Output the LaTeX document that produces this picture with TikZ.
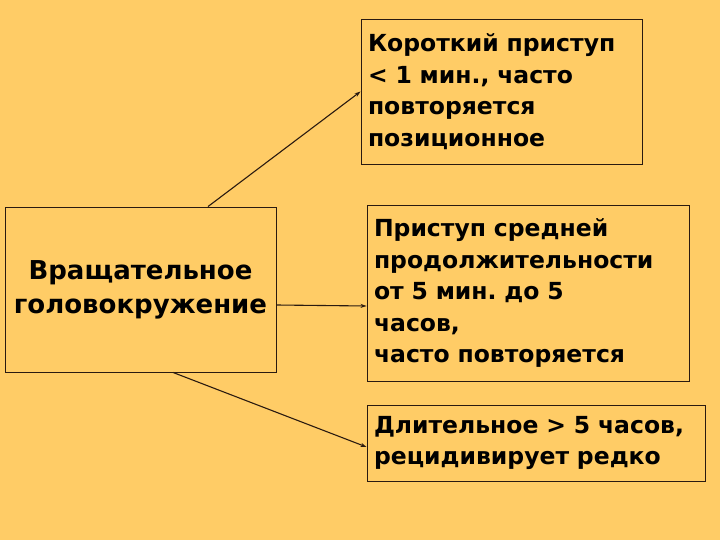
\documentclass[tikz,border=0pt]{standalone}
\usepackage{fontspec}
\setmainfont{DejaVu Sans}
\usetikzlibrary{arrows.meta}
\frenchspacing
\definecolor{slidebg}{HTML}{FFCC66}
\definecolor{boxline}{HTML}{2A1A10}
\tikzset{
  infobox/.style={draw=boxline, line width=0.9pt, inner sep=0pt, align=left,
    font=\fontsize{23.5}{31.5}\selectfont\bfseries},
  link/.style={draw=boxline, line width=1.1pt, -{Stealth[length=6pt,width=4pt]}}
}
\begin{document}
\begin{tikzpicture}[x=1pt, y=-1pt]
\fill[slidebg] (0,0) rectangle (720,540);
\useasboundingbox (0,0) rectangle (720,540);
% boxes
\node[infobox, minimum width=281pt, minimum height=145pt, text width=267pt] (short) at (501.5,91.5)
  {Короткий приступ\\< 1 мин., часто\\повторяется\\позиционное};
\node[infobox, minimum width=271pt, minimum height=165pt, text width=271pt, align=center,
  font=\fontsize{26}{34}\selectfont\bfseries] (vertigo) at (140.5,289.5)
  {Вращательное\\головокружение};
\node[infobox, minimum width=322pt, minimum height=176pt, text width=308pt] (medium) at (528,293)
  {Приступ средней\\продолжительности\\от 5 мин. до 5\\часов,\\часто повторяется};
\node[infobox, minimum width=338pt, minimum height=76pt, text width=324pt] (long) at (536,443)
  {Длительное > 5 часов,\\рецидивирует редко};
% arrows
\draw[link] ([xshift=67.5pt]vertigo.north) -- (short.west);
\draw[link] ([yshift=-15.5pt]vertigo.east) -- ([yshift=-13pt]medium.west);
\draw[link] ([xshift=32.5pt]vertigo.south) -- ([yshift=-4pt]long.west);
\end{tikzpicture}
\end{document}
